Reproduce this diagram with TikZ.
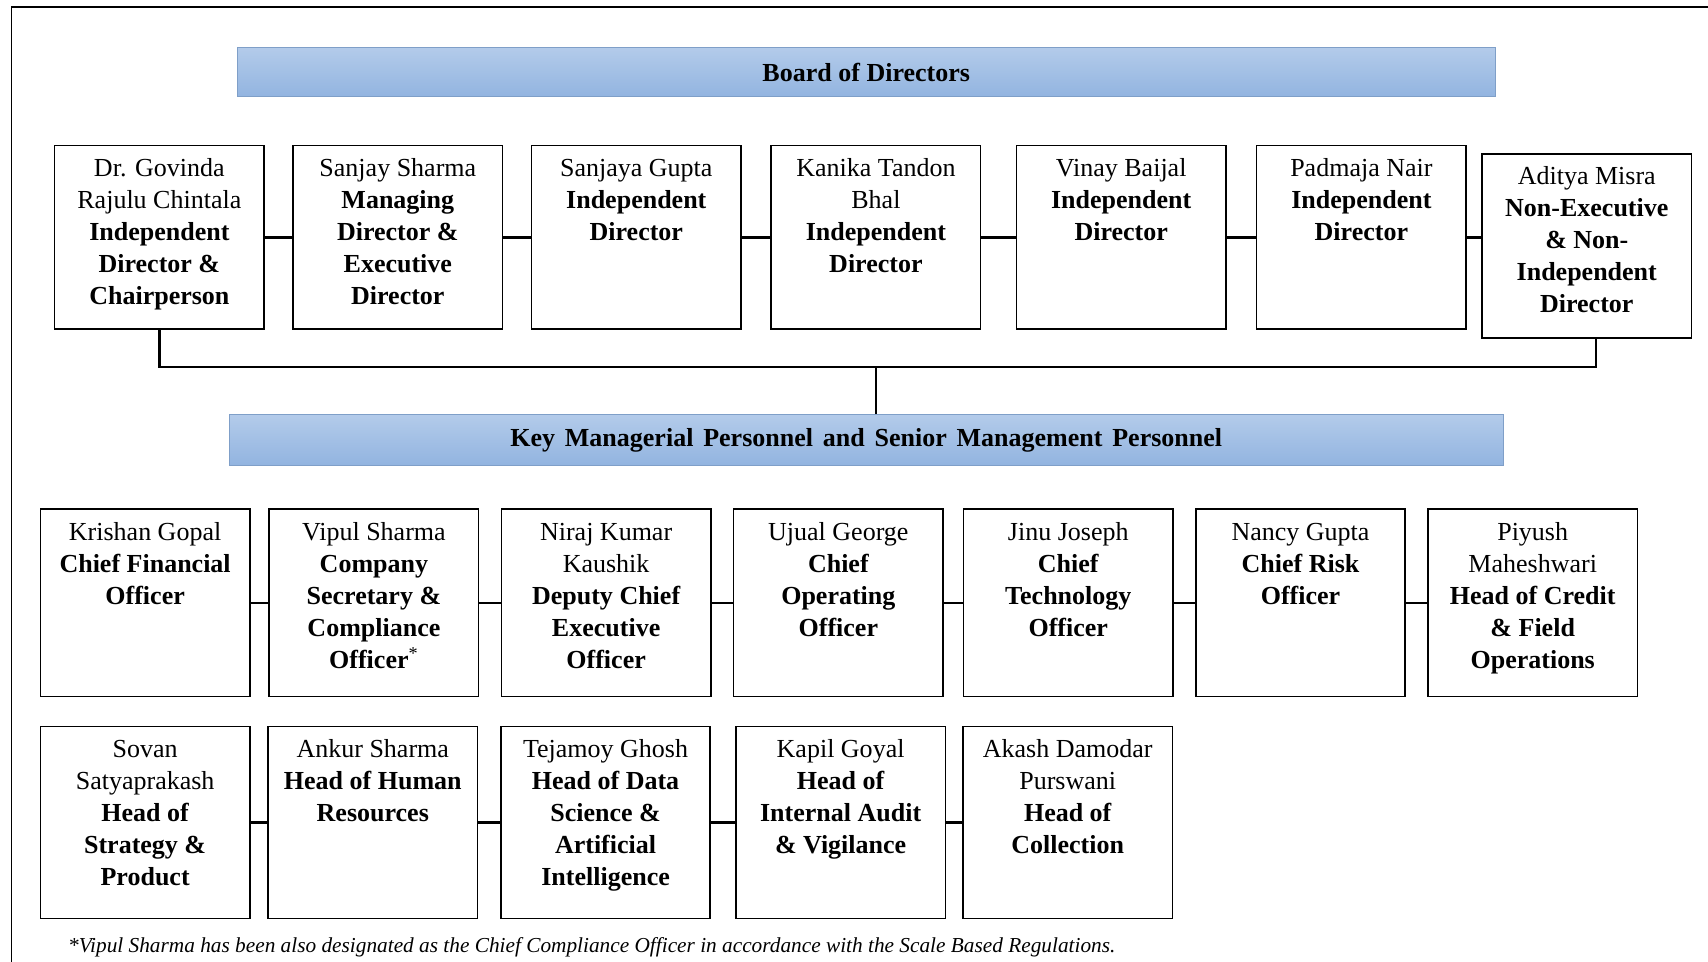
\documentclass[tikz,border=0pt]{standalone}
\usepackage{fontspec}
\setmainfont{Liberation Serif}
\usepackage{xcolor}
\usepackage{tikz}
\usetikzlibrary{positioning,calc}
\definecolor{barTop}{HTML}{B3CBEA}
\definecolor{barBottom}{HTML}{92B4E0}
\definecolor{barEdge}{HTML}{7F9FC8}
% name on top, role in bold below, text hung from the top edge
\newcommand{\card}[3][3.23cm]{\parbox[t][#1][t]{3.68cm}{\centering\rule{0pt}{15.5pt}#2\\\textbf{#3}}}

\begin{document}
\begin{tikzpicture}[
        bar/.style={draw=barEdge, top color=barTop, bottom color=barBottom, minimum height=0.86cm, font=\fontsize{13}{16}\selectfont\bfseries},
        person/.style={draw, line width=0.8pt, inner sep=0pt, outer sep=0pt, font=\fontsize{13}{16}\selectfont},
        link/.style={line width=1.2pt},
        note/.style={font=\fontsize{10.65}{12}\selectfont\itshape, anchor=west, inner sep=0pt}
    ]
        \useasboundingbox (0,0) rectangle (30.01,-16.90);
        \draw[line width=0.7pt] (0.20,-16.90) -- (0.20,-0.12) -- (30.01,-0.12);

        \node[bar, minimum width=22.11cm] (board) at (15.22,-1.27) {Board of Directors};

        \node[person] (dir1) at (2.80,-4.17) {\card{Dr. Govinda\\Rajulu Chintala}{Independent\\Director \&\\Chairperson}};
        \node[person, right=0.51cm of dir1] (dir2) {\card{Sanjay Sharma}{Managing\\Director \&\\Executive\\Director}};
        \node[person, right=0.51cm of dir2] (dir3) {\card{Sanjaya Gupta}{Independent\\Director}};
        \node[person, right=0.53cm of dir3] (dir4) {\card{Kanika Tandon\\Bhal}{Independent\\Director}};
        \node[person, right=0.63cm of dir4] (dir5) {\card{Vinay Baijal}{Independent\\Director}};
        \node[person, right=0.54cm of dir5] (dir6) {\card{Padmaja Nair}{Independent\\Director}};
        \node[person, right=0.28cm of dir6, yshift=-0.15cm] (dir7) {\card{Aditya Misra}{Non-Executive\\\& Non-\\Independent\\Director}};

        \draw[link] (dir1) -- (dir2);
        \draw[link] (dir2) -- (dir3);
        \draw[link] (dir3) -- (dir4);
        \draw[link] (dir4) -- (dir5);
        \draw[link] (dir5) -- (dir6);
        \draw[link] (dir6) -- (dir6 -| dir7.west);

        \node[bar, minimum width=22.39cm, minimum height=0.88cm] (kmp) at (15.22,-7.73) {\spaceskip=4.9pt plus 1pt\relax Key Managerial Personnel and Senior Management Personnel};

        \coordinate (bus) at (15.39,-6.45);
        \draw[link] (dir1.south) |- (bus) -| ([xshift=0.16cm]dir7.south);
        \draw[link] (bus) -- (bus |- kmp.north);

        \node[person] (kmp1) at (2.55,-10.59) {\card[3.29cm]{Krishan Gopal}{Chief Financial\\Officer}};
        \node[person, right=0.34cm of kmp1] (kmp2) {\card[3.29cm]{Vipul Sharma}{Company\\Secretary \&\\Compliance\\Officer\textsuperscript{\normalfont *}}};
        \node[person, right=0.40cm of kmp2] (kmp3) {\card[3.29cm]{Niraj Kumar\\Kaushik}{Deputy Chief\\Executive\\Officer}};
        \node[person, right=0.40cm of kmp3] (kmp4) {\card[3.29cm]{Ujual George}{Chief\\Operating\\Officer}};
        \node[person, right=0.36cm of kmp4] (kmp5) {\card[3.29cm]{Jinu Joseph}{Chief\\Technology\\Officer}};
        \node[person, right=0.40cm of kmp5] (kmp6) {\card[3.29cm]{Nancy Gupta}{Chief Risk\\Officer}};
        \node[person, right=0.40cm of kmp6] (kmp7) {\card[3.29cm]{Piyush\\Maheshwari}{Head of Credit\\\& Field\\Operations}};

        \draw[link] (kmp1) -- (kmp2);
        \draw[link] (kmp2) -- (kmp3);
        \draw[link] (kmp3) -- (kmp4);
        \draw[link] (kmp4) -- (kmp5);
        \draw[link] (kmp5) -- (kmp6);
        \draw[link] (kmp6) -- (kmp7);

        \node[person] (smp1) at (2.55,-14.45) {\card[3.37cm]{Sovan\\Satyaprakash}{Head of\\Strategy \&\\Product}};
        \node[person, right=0.32cm of smp1] (smp2) {\card[3.37cm]{Ankur Sharma}{Head of Human\\Resources}};
        \node[person, right=0.41cm of smp2] (smp3) {\card[3.37cm]{Tejamoy Ghosh}{Head of Data\\Science \&\\Artificial\\Intelligence}};
        \node[person, right=0.45cm of smp3] (smp4) {\card[3.37cm]{Kapil Goyal}{Head of\\Internal Audit\\\& Vigilance}};
        \node[person, right=0.31cm of smp4] (smp5) {\card[3.37cm]{Akash Damodar\\Purswani}{Head of\\Collection}};

        \draw[link] (smp1) -- (smp2);
        \draw[link] (smp2) -- (smp3);
        \draw[link] (smp3) -- (smp4);
        \draw[link] (smp4) -- (smp5);

        \node[note] (footnote) at (1.19,-16.64) {*Vipul Sharma has been also designated as the Chief Compliance Officer in accordance with the Scale Based Regulations.};
    \end{tikzpicture}
\end{document}
